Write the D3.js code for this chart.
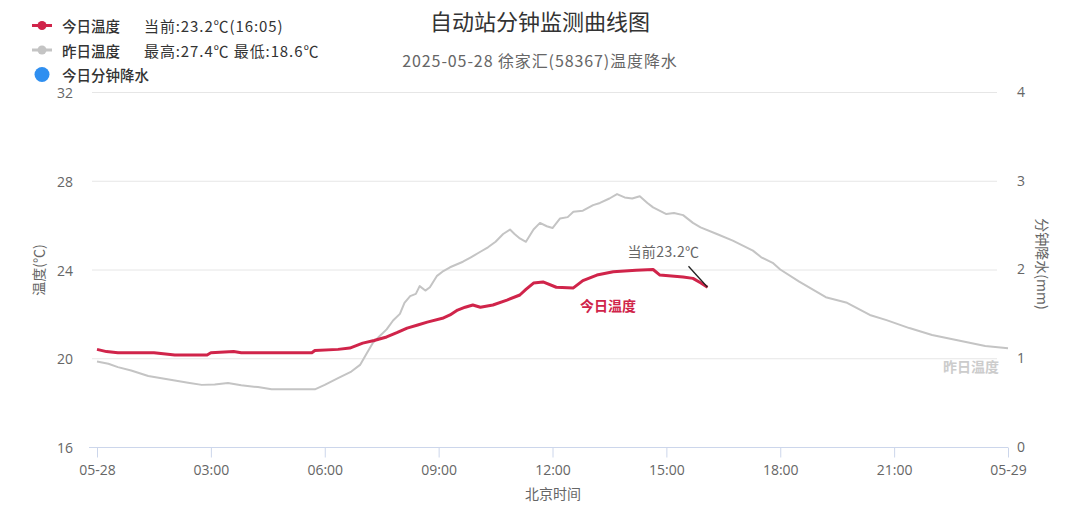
<!DOCTYPE html>
<html><head><meta charset="utf-8">
<script src="https://cdn.jsdelivr.net/npm/d3@7"></script>
<style>
html,body{margin:0;padding:0;background:#fff;}
svg{display:block;font-family:"Noto Sans CJK SC","Noto Sans",sans-serif;}
</style></head>
<body><svg id="c" width="1080" height="513"></svg>
<script>
// ---- data ----
const todayHours = [0,0.25,0.55,1.5,2.05,2.9,3.0,3.6,3.8,5.66,5.74,6.35,6.66,7.0,7.3,7.63,7.9,8.17,8.45,8.7,9.1,9.3,9.5,9.7,9.9,10.1,10.43,10.8,11.14,11.3,11.5,11.75,12.1,12.55,12.8,13.17,13.6,14.2,14.65,14.83,15.44,15.7,15.9,16.083];
const todayTemp  = [20.4,20.3,20.25,20.25,20.15,20.15,20.25,20.3,20.25,20.25,20.35,20.4,20.46,20.68,20.8,20.96,21.15,21.36,21.5,21.63,21.8,21.95,22.17,22.3,22.4,22.3,22.4,22.62,22.85,23.1,23.39,23.44,23.2,23.17,23.5,23.75,23.9,23.97,24.0,23.75,23.66,23.6,23.4,23.2];
const yestHours = [0,0.3,0.55,0.9,1.35,1.7,2.05,2.4,2.76,3.1,3.45,3.8,4.24,4.6,5.2,5.74,6.0,6.35,6.7,6.93,7.1,7.27,7.45,7.63,7.8,7.98,8.1,8.25,8.4,8.5,8.65,8.77,8.95,9.1,9.3,9.64,9.85,10.1,10.3,10.5,10.7,10.88,11.0,11.14,11.3,11.5,11.67,11.85,12.0,12.2,12.4,12.55,12.8,13.07,13.25,13.5,13.7,13.9,14.1,14.3,14.5,14.65,15.0,15.2,15.44,15.7,15.9,16.33,16.75,17.28,17.5,17.8,18.0,18.5,19.2,19.76,20.36,20.8,21.4,22.0,22.7,23.4,24.0];
const yestTemp  = [19.85,19.75,19.6,19.45,19.2,19.1,19.0,18.9,18.8,18.82,18.88,18.78,18.7,18.6,18.6,18.6,18.8,19.1,19.4,19.7,20.2,20.7,21.0,21.3,21.7,22.0,22.5,22.8,22.9,23.25,23.05,23.2,23.7,23.9,24.1,24.35,24.55,24.8,25.0,25.25,25.6,25.8,25.6,25.4,25.25,25.8,26.1,25.95,25.87,26.3,26.36,26.6,26.65,26.9,27.0,27.2,27.4,27.25,27.2,27.3,27.0,26.8,26.5,26.55,26.45,26.1,25.9,25.6,25.3,24.85,24.55,24.3,24.0,23.45,22.75,22.5,21.95,21.72,21.36,21.05,20.8,20.55,20.45];
const tempTicks = [16,20,24,28,32];
const rainTicks = [0,1,2,3,4];
const xTickHours = [0,3,6,9,12,15,18,21,24];
const titleText = "自动站分钟监测曲线图";
const subtitleText = "2025-05-28 徐家汇(58367)温度降水";
const legendItems = [
  {name:"今日温度", note:"当前:23.2℃(16:05)", color:"#d0244a", type:"line"},
  {name:"昨日温度", note:"最高:27.4℃ 最低:18.6℃", color:"#c4c4c4", type:"line"},
  {name:"今日分钟降水", note:"", color:"#2f8ff0", type:"dot"}
];
const currentLabel = "当前23.2℃";

// ---- chart ----
const svg = d3.select("#c");
const base = new Date(2025,4,28,0,0);
const toDate = h => new Date(base.getTime() + h*3600000);
const x = d3.scaleTime().domain([base, toDate(24)]).range([97,1008]);
const y = d3.scaleLinear().domain([16,32]).range([447,92]);
const yR = d3.scaleLinear().domain([0,4]).range([447,92]);

// grid
svg.append("g").selectAll("line").data(tempTicks.filter(t=>t!==16)).join("line")
  .attr("x1",92).attr("x2",997).attr("y1",d=>y(d)+0.5).attr("y2",d=>y(d)+0.5)
  .attr("stroke","#e6e6e6").attr("stroke-width",1);

// x axis
const xAxis = d3.axisBottom(x)
  .tickValues(xTickHours.map(toDate))
  .tickSize(10)
  .tickFormat(d => (d.getHours()===0 ? d3.timeFormat("%m-%d")(d) : d3.timeFormat("%H:%M")(d)));
const gx = svg.append("g").attr("transform","translate(0,447.5)").call(xAxis);
gx.select(".domain").attr("d","M89,0H1008").attr("stroke","#ccd6eb");
gx.selectAll(".tick line").attr("stroke","#ccd6eb");
gx.selectAll(".tick text").attr("fill","#666").attr("font-size",14).attr("dy","1.05em")
  .attr("font-family","'Open Sans','Noto Sans',sans-serif");

// left axis
const yAxis = d3.axisLeft(y).tickValues(tempTicks).tickSize(0).tickPadding(0);
const gy = svg.append("g").attr("transform","translate(73,0)").call(yAxis);
gy.select(".domain").remove();
gy.selectAll(".tick text").attr("fill","#666").attr("font-size",14).attr("dy","0.4em")
  .attr("font-family","'Open Sans','Noto Sans',sans-serif");

// right axis
const yAxisR = d3.axisRight(yR).tickValues(rainTicks).tickSize(0).tickPadding(0).tickFormat(d3.format("d"));
const gyr = svg.append("g").attr("transform","translate(1017,0)").call(yAxisR);
gyr.select(".domain").remove();
gyr.selectAll(".tick text").attr("fill","#666").attr("font-size",14)
  .attr("font-family","'Open Sans','Noto Sans',sans-serif");

// axis titles
svg.append("text").attr("transform","translate(38,270) rotate(-90)")
  .attr("text-anchor","middle").attr("dominant-baseline","central")
  .attr("fill","#666").attr("font-size",14).text("温度(℃)");
svg.append("text").attr("transform","translate(1043,264) rotate(90)")
  .attr("text-anchor","middle").attr("dominant-baseline","central")
  .attr("fill","#666").attr("font-size",14).text("分钟降水(mm)");
svg.append("text").attr("x",553).attr("y",493)
  .attr("text-anchor","middle").attr("dominant-baseline","central")
  .attr("fill","#666").attr("font-size",14).text("北京时间");

// lines
const yestData = yestHours.map((h,i)=>[h,yestTemp[i]]);
const todayData = todayHours.map((h,i)=>[h,todayTemp[i]]);
const lineL = d3.line().x(d=>x(toDate(d[0]))).y(d=>y(d[1]));
svg.append("path").attr("d",lineL(yestData)).attr("fill","none")
  .attr("stroke","#c4c4c4").attr("stroke-width",2).attr("stroke-linejoin","round");
svg.append("path").attr("d",lineL(todayData)).attr("fill","none")
  .attr("stroke","#d0244a").attr("stroke-width",3).attr("stroke-linejoin","round");

// series labels
svg.append("text").attr("x",608).attr("y",305).attr("text-anchor","middle")
  .attr("dominant-baseline","central").attr("fill","#d0244a").attr("font-size",14)
  .attr("font-weight","bold").text(legendItems[0].name);
svg.append("text").attr("x",971).attr("y",366).attr("text-anchor","middle")
  .attr("dominant-baseline","central").attr("fill","#cccccc").attr("font-size",14)
  .attr("font-weight","bold").text(legendItems[1].name);

// current annotation
const last = todayData[todayData.length-1];
const lx = x(toDate(last[0])), ly = y(last[1]);
svg.append("line").attr("x1",lx-19).attr("y1",ly-21).attr("x2",lx).attr("y2",ly)
  .attr("stroke","#222").attr("stroke-width",1.3);
svg.append("text").attr("x",lx-44).attr("y",251).attr("text-anchor","middle")
  .attr("dominant-baseline","central").attr("fill","#666").attr("font-size",14)
  .attr("letter-spacing",0.4).text(currentLabel);

// title
svg.append("text").attr("x",540).attr("y",20).attr("text-anchor","middle")
  .attr("dominant-baseline","central").attr("fill","#333").attr("font-size",22)
  .text(titleText);
svg.append("text").attr("x",540).attr("y",60).attr("text-anchor","middle")
  .attr("dominant-baseline","central").attr("fill","#666").attr("font-size",16)
  .attr("letter-spacing",0.9).text(subtitleText);

// legend
const lg = svg.append("g");
legendItems.forEach((it,i)=>{
  const cy = 25.5 + i*24.5;
  const g = lg.append("g");
  if(it.type==="line"){
    g.append("line").attr("x1",32).attr("x2",52).attr("y1",cy).attr("y2",cy)
      .attr("stroke",it.color).attr("stroke-width",3);
    g.append("circle").attr("cx",42).attr("cy",cy).attr("r",4.5).attr("fill",it.color);
  } else {
    g.append("circle").attr("cx",42).attr("cy",cy).attr("r",7.5).attr("fill",it.color);
  }
  g.append("text").attr("x",62).attr("y",cy).attr("dominant-baseline","central")
    .attr("fill","#333").attr("font-size",14.5).attr("font-weight","500").text(it.name);
  if(it.note){
    g.append("text").attr("x",144).attr("y",cy).attr("dominant-baseline","central")
      .attr("fill","#333").attr("font-size",15).attr("letter-spacing",0.9).text(it.note);
  }
});
</script>
</body></html>
